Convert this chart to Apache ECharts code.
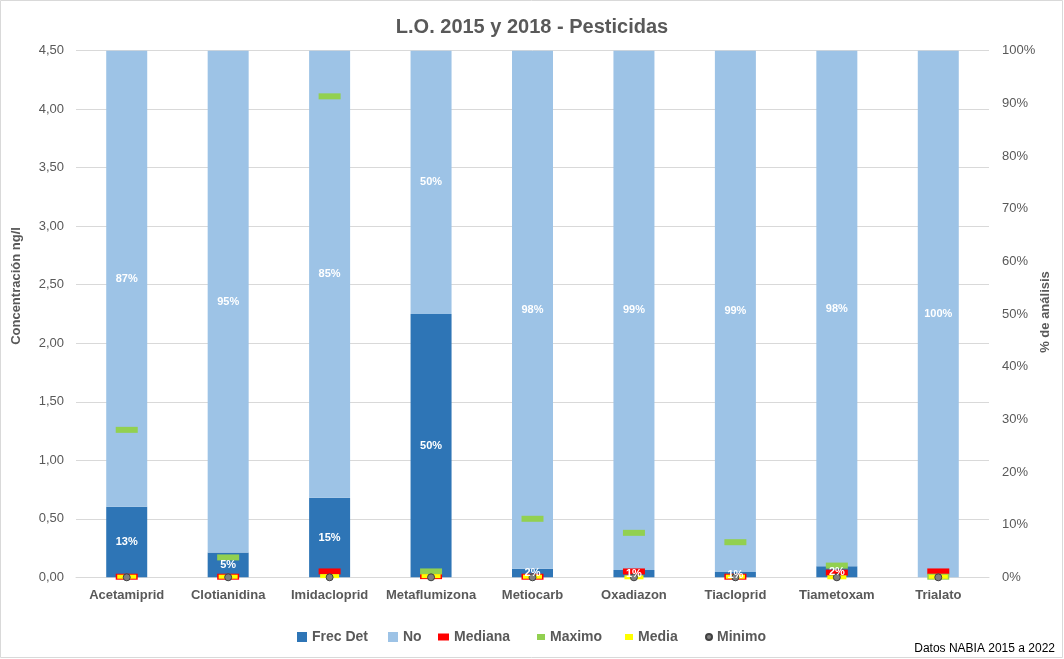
<!DOCTYPE html>
<html>
<head>
<meta charset="utf-8">
<script src="https://cdn.jsdelivr.net/npm/echarts@6/dist/echarts.min.js"></script>
<style>
html,body{margin:0;padding:0;background:#fff;}
#c{width:1064px;height:659px;}
</style>
</head>
<body>
<div id="c"></div>
<script>
const categories = ['Acetamiprid','Clotianidina','Imidacloprid','Metaflumizona','Metiocarb','Oxadiazon','Tiacloprid','Tiametoxam','Trialato'];
const frecDet = [13.4, 4.7, 15.1, 50, 1.6, 1.4, 1.0, 2.1, 0];
const noDet   = [86.6, 95.3, 84.9, 50, 98.4, 98.6, 99.0, 97.9, 100];
const mediana = [0.005, 0.005, 0.05, 0.01, 0.005, 0.05, 0.005, 0.04, 0.05];
const maximo  = [1.26, 0.17, 4.11, 0.05, 0.50, 0.38, 0.30, 0.10, 0.005];
const media   = [0.005, 0.005, 0.01, 0.01, 0.005, 0.0, 0.005, 0.0, 0.005];
const minimo  = [0, 0, 0, 0, 0, 0, 0, 0, 0];

const FONT = "'Liberation Sans', Arial, sans-serif";
const GREY = '#595959';

const chart = echarts.init(document.getElementById('c'));

function barLabel(p){ return p.value > 0 ? Math.round(p.value) + '%' : ''; }

function lineSeries(name, data, color, symbol, size, extra){
  return Object.assign({
    name: name, type: 'line', yAxisIndex: 0, data: data, z: 3,
    symbol: symbol, symbolSize: size, showSymbol: true, showAllSymbol: true,
    lineStyle: {opacity: 0, width: 0},
    itemStyle: {color: color},
    emphasis: {disabled: true},
    animation: false
  }, extra || {});
}

function leg(name, left, w, h, icon){
  return {
    data: [{name: name, icon: icon}],
    left: left, top: 630, itemWidth: w, itemHeight: h, itemGap: 0,
    padding: 0,
    textStyle: {fontFamily: FONT, fontSize: 14, fontWeight: 'bold', color: GREY},
    selectedMode: false
  };
}

const labelStyle = {show: true, position: 'inside', color: '#fff', fontFamily: FONT, fontSize: 11, fontWeight: 'bold', formatter: barLabel};

function labelSeries(data){
  return {name: 'lbl', type: 'bar', stack: 'lbl', yAxisIndex: 1, data: data, barWidth: 41, barGap: '-100%',
    z: 6, silent: true, itemStyle: {color: 'rgba(0,0,0,0)'}, label: labelStyle, emphasis: {disabled: true}};
}

const option = {
  animation: false,
  backgroundColor: '#fff',
  textStyle: {fontFamily: FONT},
  title: {
    text: 'L.O. 2015 y 2018 - Pesticidas',
    left: 'center', top: 17, padding: 0,
    textStyle: {fontFamily: FONT, fontSize: 20, fontWeight: 'bold', color: GREY}
  },
  legend: [
    leg('Frec Det', 297, 10, 10, 'rect'),
    leg('No', 388, 10, 10, 'rect'),
    leg('Mediana', 438, 11, 7, 'rect'),
    leg('Maximo', 537, 8, 6, 'rect'),
    leg('Media', 625, 8, 6, 'rect'),
    leg('Minimo', 705, 6, 6, 'circle')
  ],
  grid: {left: 76, right: 75, top: 50.7, bottom: 81.7, containLabel: false},
  xAxis: {
    type: 'category', data: categories,
    axisLine: {lineStyle: {color: '#d9d9d9'}},
    axisTick: {show: false},
    axisLabel: {interval: 0, fontFamily: FONT, fontSize: 13, fontWeight: 'bold', color: GREY, margin: 12}
  },
  yAxis: [
    {
      type: 'value', min: 0, max: 4.5, interval: 0.5,
      axisLine: {show: false}, axisTick: {show: false},
      splitLine: {lineStyle: {color: '#d9d9d9'}},
      axisLabel: {fontFamily: FONT, fontSize: 13, color: GREY, margin: 12,
        formatter: v => v.toFixed(2).replace('.', ',')}
    },
    {
      type: 'value', min: 0, max: 100, interval: 10, position: 'right',
      axisLine: {show: false}, axisTick: {show: false},
      splitLine: {show: false},
      axisLabel: {fontFamily: FONT, fontSize: 13, color: GREY, margin: 13, formatter: '{value}%'}
    }
  ],
  graphic: [
    {type: 'rect', silent: true, shape: {x: 0.5, y: 0.5, width: 1062, height: 657},
      style: {fill: 'none', stroke: '#d9d9d9', lineWidth: 1}},
    {type: 'text', x: 16, y: 286, rotation: Math.PI/2, silent: true,
      style: {text: 'Concentración ng/l', fontFamily: FONT, fontSize: 13, fontWeight: 'bold', fill: GREY, align: 'center', verticalAlign: 'middle'}},
    {type: 'text', x: 1045, y: 312, rotation: Math.PI/2, silent: true,
      style: {text: '% de análisis', fontFamily: FONT, fontSize: 13, fontWeight: 'bold', fill: GREY, align: 'center', verticalAlign: 'middle'}},
    {type: 'text', right: 9, top: 643, silent: true,
      style: {text: 'Datos NABIA 2015 a 2022', fontFamily: FONT, fontSize: 12, fill: '#000'}}
  ],
  series: [
    {name: 'Frec Det', type: 'bar', stack: 'pct', yAxisIndex: 1, data: frecDet, barWidth: 41,
      itemStyle: {color: '#2E75B6'}, emphasis: {disabled: true}},
    {name: 'No', type: 'bar', stack: 'pct', yAxisIndex: 1, data: noDet, barWidth: 41,
      itemStyle: {color: '#9DC3E6'}, emphasis: {disabled: true}},
    lineSeries('Mediana', mediana, '#FF0000', 'rect', [22, 6]),
    lineSeries('Maximo', maximo, '#92D050', 'rect', [22, 6]),
    lineSeries('Media', media, '#FFFF00', 'rect', [19, 4]),
    lineSeries('Minimo', minimo, '#808080', 'circle', 7, {itemStyle: {color: '#808080', borderColor: '#404040', borderWidth: 1}}),
    labelSeries(frecDet),
    Object.assign(labelSeries(noDet), {name: 'lbl2'})
  ]
};
chart.setOption(option);
</script>
</body>
</html>
